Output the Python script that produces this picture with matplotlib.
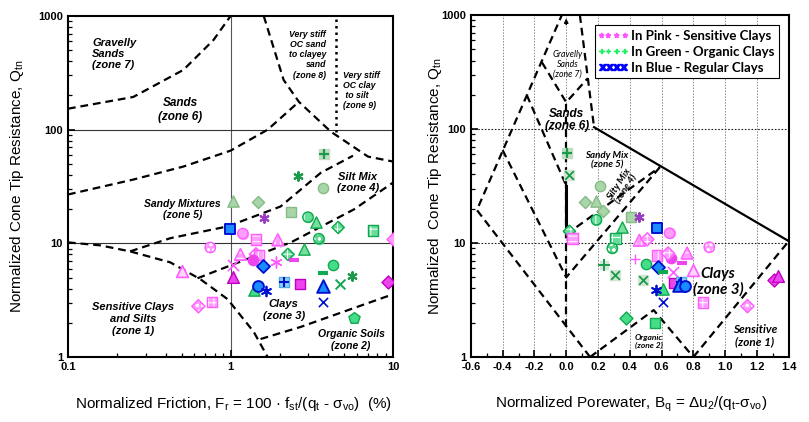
import matplotlib
matplotlib.use('Agg')
import matplotlib.pyplot as plt
from matplotlib.lines import Line2D
from matplotlib.ticker import FixedLocator, NullFormatter, LogLocator, MultipleLocator

plt.rcParams['font.family'] = ['Liberation Sans', 'DejaVu Sans']
plt.rcParams['mathtext.fontset'] = 'custom'
plt.rcParams['mathtext.rm'] = 'Liberation Sans'
plt.rcParams['mathtext.it'] = 'Liberation Sans:italic'
plt.rcParams['hatch.linewidth'] = 0.7

# ---- zone boundaries, Qtn-Fr chart (Fr %, Qtn)
z7_fr = [0.1, 0.252, 0.513, 0.785, 1.0]
z7_q = [153, 194, 336, 615, 1000]
z6_fr = [0.1, 0.252, 0.513, 1.0, 1.69, 2.63]
z6_q = [26.9, 36.4, 47.4, 65.4, 100, 176]
z8_fr = [1.6, 2.12, 2.63, 4.14, 7.0, 10]
z8_q = [1000, 274, 176, 96, 58, 52.4]
z9_fr = [4.45, 4.45]
z9_q = [95, 1000]
z54_fr = [0.241, 0.426, 0.96, 2.03, 3.59, 5.66]
z54_q = [8.5, 11.1, 14.1, 21.1, 41.8, 59]
z43_fr = [0.626, 1.0, 2.35, 5.74, 10]
z43_q = [4.93, 6.4, 10.2, 19.9, 34.3]
sens_fr = [0.1, 0.158, 0.241, 0.426, 0.653, 0.958, 1.39, 1.69]
sens_q = [10.2, 9.6, 8.5, 6.8, 4.83, 3.23, 1.66, 1.0]
z2_fr = [1.53, 2.7, 5.5, 10]
z2_q = [1.44, 1.84, 2.64, 3.57]

# ---- zone boundaries, Qtn-Bq chart
outer_bq = [0.15, -0.562, -0.028]
outer_q = [1, 19.5, 1000]
z7r_bq = [0.086, 0.175]
z7r_q = [1000, 104]
solid_bq = [0.175, 1.4]
solid_q = [104, 10.4]
v7_bq = [-0.153, 0.0, 0.136]
v7_q = [386, 172, 280]
chev_bq = [-0.40, 0.0, 0.59]
chev_q = [65.4, 5.0, 46.5]
z6b_bq = [-0.248, 0.0]
z6b_q = [199, 32]
z5b_bq = [0.0, 0.59]
z5b_q = [11.9, 46.5]
z1b_bq = [0.8, 1.4]
z1b_q = [1, 10.4]
org_bq = [0.15, 0.55, 0.8]
org_q = [1, 2.58, 1]

# ---- measured points
left_fr = [3.75, 2.59, 3.70, 1.04, 1.47, 2.35, 1.60, 2.99, 3.35, 4.58, 7.53, 0.99,
           1.19, 1.43, 1.95, 3.49, 10.0, 0.75, 1.15, 1.43, 1.50, 1.37, 2.82, 2.25,
           2.45, 1.90, 1.03, 1.58, 4.26, 3.70, 5.58, 1.04, 4.70, 2.12, 2.67, 3.70,
           9.30, 1.39, 1.47, 1.64, 3.70, 5.74, 0.505, 0.634, 0.77]
left_q = [61.6, 39.5, 31.0, 23.4, 22.9, 18.7, 16.6, 17.0, 15.3, 13.8, 13.0, 13.5,
          12.2, 10.8, 10.8, 11.0, 11.0, 9.2, 8.0, 8.0, 7.9, 7.2, 9.0, 8.0,
          7.1, 6.8, 6.4, 6.3, 6.5, 5.5, 5.2, 5.1, 4.4, 4.55, 4.37, 4.2,
          4.55, 3.9, 4.2, 3.8, 3.04, 2.2, 5.68, 2.8, 3.04]
left_style = ['sage_plus', 'green_star', 'sage_circle', 'sage_tri', 'sage_diamond',
              'sage_square', 'purple_star', 'green_circle_vs', 'green_tri',
              'green_diamond_chk', 'green_square_chk', 'blue_square',
              'pink_circle_hl', 'pink_square_hs', 'pink_tri_vs', 'green_circle_dot',
              'pink_diamond', 'pink_circle_dot', 'pink_tri_hs', 'pink_diamond_chk',
              'pink_square_vs', 'pink_circle', 'green_tri', 'green_diamond_chk',
              'magenta_dash', 'pink_star', 'pink_x', 'blue_diamond', 'green_circle',
              'green_dash', 'green_star', 'magenta_tri', 'green_x', 'lblue_plus',
              'magenta_square', 'blue_tri', 'magenta_diamond', 'green_tri2',
              'blue_circle', 'blue_star', 'blue_x', 'green_pent', 'pink_tri_open',
              'pink_diamond_dot', 'pink_square_chk']

right_bq = [0.004, 0.02, 0.21, 0.117, 0.186, 0.23, 0.19, 0.35, 0.02, 0.04, 0.31,
            0.29, 0.41, 0.46, 0.57, 0.65, 0.46, 0.51, 0.90, 0.57, 0.66, 0.64, 0.76,
            0.43, 0.50, 0.58, 0.61, 0.73, 0.67, 0.80, 0.24, 0.31, 0.48, 0.68, 0.72,
            0.71, 0.75, 0.61, 0.565, 0.61, 0.86, 1.14, 0.375, 0.56, 1.31, 1.33]
right_q = [61.6, 39.5, 32, 23, 23.4, 19, 16, 13.8, 12.7, 11, 11,
           9, 16.9, 16.9, 13.5, 12.2, 10.6, 10.8, 9.2, 7.8, 7.4, 8.1, 8.2,
           7.2, 6.5, 6.2, 5.6, 6.7, 5.6, 5.8, 6.4, 5.2, 4.7, 4.45, 4.55,
           4.3, 4.2, 3.95, 3.9, 3.04, 3.0, 2.8, 2.2, 2.0, 4.7, 5.1]
right_style = ['sage_plus', 'sage_x', 'sage_circle', 'sage_diamond', 'sage_tri',
               'sage_diamond', 'green_circle_vs', 'green_tri', 'green_diamond_chk',
               'pink_square_hs', 'green_square_chk', 'green_circle_dot', 'sage_square',
               'purple_star', 'blue_square', 'pink_circle_hl', 'pink_tri_vs',
               'pink_diamond_chk', 'pink_circle_dot', 'pink_square_vs', 'pink_circle',
               'pink_diamond_chk', 'pink_tri_hs', 'pink_plus', 'green_circle',
               'blue_diamond', 'green_dash', 'magenta_dash', 'pink_x', 'pink_tri_open',
               'green_plus_gray', 'sage_x', 'sage_x', 'magenta_square', 'lblue_plus',
               'blue_tri', 'blue_circle', 'green_tri2', 'blue_star', 'blue_x',
               'pink_square_chk', 'pink_diamond_dot', 'green_diamond', 'green_square',
               'magenta_diamond', 'magenta_tri']

legend_labels = ['In Pink - Sensitive Clays', 'In Green - Organic Clays',
                 'In Blue - Regular Clays']

# ---- marker styles
S = 55
PINK, PINK_E = '#ff9cff', '#ff5cff'
MAG, MAG_E = '#ee44ee', '#c000c0'
SAGE, SAGE_E = '#a9d6a9', '#86bb86'
GRN, GRN_E, GRN_D = '#44dd88', '#10a850', '#1a9a4a'
BLUE, BLUE_E, LBLUE = '#1a8cff', '#0010d0', '#88d4ff'
PURP = '#9a3cc0'


def lay(marker, s, fc, ec, lw=1.0, hatch=None):
    return dict(marker=marker, s=s, fc=fc, ec=ec, lw=lw, hatch=hatch)


def hatched(marker, fc, ec, hatch, s=S):
    return [lay(marker, s, fc, fc, 0.8),
            lay(marker, s, 'none', 'white', 0.0, hatch),
            lay(marker, s, 'none', ec, 1.0)]


STAR = (6, 2, 0)
STYLES = {
    'sage_plus': [lay('s', S, '#c2dcc2', '#c2dcc2'), lay('+', S * 0.8, GRN_D, GRN_D, 1.6)],
    'sage_x': [lay('s', S, '#d3e6d3', '#d3e6d3'), lay('x', S * 0.7, GRN_D, GRN_D, 1.3)],
    'green_plus_gray': [lay('s', S * 0.6, '#d8e4d8', '#d8e4d8'), lay('+', S * 1.3, GRN_D, GRN_D, 1.4)],
    'green_star': [lay(STAR, S * 0.7, GRN_D, GRN_D, 1.5)],
    'purple_star': [lay(STAR, S * 0.7, PURP, PURP, 1.5)],
    'pink_star': [lay(STAR, S * 1.2, PINK_E, PINK_E, 1.0)],
    'blue_star': [lay(STAR, S * 0.9, BLUE_E, BLUE_E, 1.3)],
    'sage_circle': [lay('o', S, SAGE, SAGE_E)],
    'sage_tri': [lay('^', S * 1.2, SAGE, SAGE_E)],
    'sage_diamond': [lay('D', S * 0.7, SAGE, SAGE_E)],
    'sage_square': [lay('s', S, SAGE, SAGE_E)],
    'green_circle_vs': hatched('o', '#66dd99', GRN_E, '||'),
    'green_circle_dot': hatched('o', '#55d68c', GRN_E, 'ooo'),
    'green_diamond_chk': hatched('D', '#66dd99', GRN_E, '++', S * 0.7),
    'green_square_chk': hatched('s', '#66dd99', GRN_E, '++'),
    'green_tri': [lay('^', S * 1.2, '#77e09c', GRN_E)],
    'green_tri2': [lay('^', S * 1.2, GRN, GRN_E)],
    'green_circle': [lay('o', S, GRN, GRN_E)],
    'green_diamond': [lay('D', S * 0.8, GRN, GRN_E)],
    'green_square': [lay('s', S, GRN, GRN_E)],
    'green_pent': [lay('p', S * 1.3, GRN, GRN_E)],
    'green_dash': [lay('_', S, GRN_E, GRN_E, 3.0)],
    'green_x': [lay('x', S * 0.9, GRN_E, GRN_E, 1.4)],
    'blue_square': [lay('s', S * 1.1, BLUE, BLUE_E, 1.4)],
    'blue_diamond': [lay('D', S * 0.8, BLUE, BLUE_E, 1.3)],
    'blue_tri': [lay('^', S * 1.5, BLUE, BLUE_E, 1.4)],
    'blue_circle': [lay('o', S * 1.1, BLUE, BLUE_E, 1.4)],
    'blue_x': [lay('x', S * 0.8, BLUE_E, BLUE_E, 1.2)],
    'lblue_plus': [lay('s', S * 1.1, LBLUE, '#55aadd'), lay('+', S * 1.1, BLUE_E, BLUE_E, 1.5)],
    'pink_circle_hl': hatched('o', PINK, PINK_E, '-'),
    'pink_circle_dot': hatched('o', PINK, PINK_E, 'ooo'),
    'pink_circle': [lay('o', S, MAG, MAG)],
    'pink_square_hs': hatched('s', PINK, PINK_E, '---'),
    'pink_square_vs': hatched('s', PINK, PINK_E, '|||'),
    'pink_square_chk': hatched('s', PINK, PINK_E, '+++'),
    'pink_tri_vs': hatched('^', PINK, PINK_E, '|||', S * 1.3),
    'pink_tri_hs': hatched('^', PINK, PINK_E, '---', S * 1.3),
    'pink_tri_open': [lay('^', S * 1.3, '#ffd6ff', PINK_E, 1.2)],
    'pink_diamond': [lay('D', S * 0.8, PINK, PINK_E)],
    'pink_diamond_chk': hatched('D', PINK, PINK_E, '+++', S * 0.8),
    'pink_diamond_dot': hatched('D', PINK, PINK_E, 'ooo', S * 0.8),
    'pink_x': [lay('x', S * 1.2, PINK_E, PINK_E, 1.2)],
    'pink_plus': [lay('+', S * 1.0, PINK_E, PINK_E, 1.0)],
    'magenta_dash': [lay('_', S, MAG, MAG, 3.0)],
    'magenta_tri': [lay('^', S * 1.3, MAG, MAG_E)],
    'magenta_square': [lay('s', S, MAG, MAG_E)],
    'magenta_diamond': [lay('D', S * 0.8, MAG, MAG_E)],
}


def draw_points(ax, xs, ys, styles):
    for x, y, st in zip(xs, ys, styles):
        for l in STYLES[st]:
            kw = {}
            if l['hatch']:
                kw['hatch'] = l['hatch']
            ax.scatter([x], [y], marker=l['marker'], s=l['s'], facecolors=l['fc'],
                       edgecolors=l['ec'], linewidths=l['lw'], zorder=5, **kw)


def dashed(ax, x, y, lw=1.6, ls=(0, (3.5, 2.2))):
    ax.plot(x, y, color='black', lw=lw, ls=ls, zorder=3)


fig = plt.figure(figsize=(8.09, 4.22), dpi=100)
axl = fig.add_axes([0.084, 0.154, 0.402, 0.808])
axr = fig.add_axes([0.582, 0.154, 0.393, 0.810])

zone_kw = dict(fontweight='bold', style='italic', color='black', zorder=4)

# ---------------- left chart
axl.set_xscale('log')
axl.set_yscale('log')
axl.set_xlim(0.1, 10)
axl.set_ylim(1, 1000)
axl.axvline(1, color='#555555', lw=0.8, zorder=1)
for yy in (10, 100):
    axl.axhline(yy, color='#333333', lw=0.8, zorder=1)

for fx, fq in [(z7_fr, z7_q), (z6_fr, z6_q), (z8_fr, z8_q), (z54_fr, z54_q),
               (z43_fr, z43_q), (sens_fr, sens_q), (z2_fr, z2_q)]:
    dashed(axl, fx, fq)
axl.plot(z9_fr, z9_q, color='black', lw=1.8, ls=(0, (1, 1.6)), zorder=3)

axl.text(0.141, 464, 'Gravelly\nSands\n(zone 7)', ha='left', va='center', fontsize=8, linespacing=1.1, **zone_kw)
axl.text(0.49, 150, 'Sands\n(zone 6)', ha='center', va='center', fontsize=8.5, linespacing=1.2, **zone_kw)
axl.text(3.86, 455, 'Very stiff\nOC sand\nto clayey\nsand\n(zone 8)', ha='right', va='center',
         multialignment='right', fontsize=6.3, linespacing=1.15, **zone_kw)
axl.text(4.91, 220, 'Very stiff\nOC clay\n to silt\n(zone 9)', ha='left', va='center',
         fontsize=6.3, linespacing=1.15, **zone_kw)
axl.text(6.08, 34.3, 'Silt Mix\n(zone 4)', ha='center', va='center', fontsize=8, linespacing=1.1, **zone_kw)
axl.text(0.506, 19.9, 'Sandy Mixtures\n(zone 5)', ha='center', va='center', fontsize=7.5, linespacing=1.1, **zone_kw)
axl.text(0.252, 2.16, 'Sensitive Clays\nand Silts\n(zone 1)', ha='center', va='center', fontsize=8, linespacing=1.2, **zone_kw)
axl.text(2.12, 2.58, 'Clays\n(zone 3)', ha='center', va='center', fontsize=8, linespacing=1.2, **zone_kw)
axl.text(5.5, 1.41, 'Organic Soils\n(zone 2)', ha='center', va='center', fontsize=7.5, linespacing=1.15, **zone_kw)

draw_points(axl, left_fr, left_q, left_style)

axl.xaxis.set_major_locator(FixedLocator([0.1, 1, 10]))
axl.set_xticklabels(['0.1', '1', '10'])
axl.xaxis.set_minor_locator(LogLocator(base=10, subs=range(2, 10)))
axl.xaxis.set_minor_formatter(NullFormatter())
axl.yaxis.set_major_locator(FixedLocator([1, 10, 100, 1000]))
axl.set_yticklabels(['1', '10', '100', '1000'])
axl.yaxis.set_minor_locator(LogLocator(base=10, subs=range(2, 10)))
axl.yaxis.set_minor_formatter(NullFormatter())
axl.set_xlabel('Normalized Friction, F$_{\\mathrm{r}}$ = 100 · f$_{\\mathrm{st}}$/(q$_{\\mathrm{t}}$ - σ$_{\\mathrm{vo}}$)  (%)',
               fontsize=11)
axl.xaxis.set_label_coords(0.51, -0.11)
axl.set_ylabel('Normalized Cone Tip Resistance, Q$_{\\mathrm{tn}}$', fontsize=11)
axl.yaxis.set_label_coords(-0.13, 0.5)

# ---------------- right chart
axr.set_yscale('log')
axr.set_xlim(-0.6, 1.4)
axr.set_ylim(1, 1000)
axr.xaxis.set_major_locator(MultipleLocator(0.2))
axr.xaxis.set_minor_locator(MultipleLocator(0.1))
for gx in [i * 0.2 - 0.4 for i in range(9)]:
    axr.axvline(gx, color='#888888', lw=0.7, ls=(0, (1.5, 1.5)), zorder=1)
for yy in (10, 100):
    axr.axhline(yy, color='#222222', lw=0.8, ls=(0, (1.5, 1.5)), zorder=1)

for bx, bq in [(outer_bq, outer_q), (z7r_bq, z7r_q), (v7_bq, v7_q), (chev_bq, chev_q),
               (z6b_bq, z6b_q), (z5b_bq, z5b_q), (z1b_bq, z1b_q), (org_bq, org_q)]:
    dashed(axr, bx, bq)
axr.plot(solid_bq, solid_q, color='black', lw=1.6, zorder=3)
dashed(axr, [0, 0], [1.83, 172])
axr.plot([0, 0], [12, 32], color='black', lw=2.2, zorder=3)
axr.annotate('', xy=(0, 990), xytext=(0, 780),
             arrowprops=dict(arrowstyle='-|>', color='black', lw=1.0, mutation_scale=6))

cal = ['Lato', 'DejaVu Sans']
axr.text(0.01, 372, 'Gravelly\nSands\n(zone 7)', ha='center', va='center', fontsize=6.3, linespacing=1.15,
         family=cal, style='italic', zorder=4)
axr.text(0.004, 120, 'Sands\n(zone 6)', ha='center', va='center', fontsize=8.5, linespacing=1.05, **zone_kw)
axr.text(0.255, 53.5, 'Sandy Mix\n(zone 5)', ha='center', va='center', fontsize=7, linespacing=1.1,
         family=cal, **zone_kw)
axr.text(0.356, 31, 'Silty Mix\n(zone 4)', ha='center', va='center', fontsize=7, linespacing=1.1,
         rotation=57, family=cal, **zone_kw)
axr.text(0.955, 4.55, 'Clays\n(zone 3)', ha='center', va='center', fontsize=11, linespacing=1.15,
         family=cal, **zone_kw)
axr.text(0.52, 1.38, 'Organic\n(zone 2)', ha='center', va='center', fontsize=6, linespacing=1.15,
         family=cal, **zone_kw)
axr.text(1.186, 1.53, 'Sensitive\n(zone 1)', ha='center', va='center', fontsize=8.5, linespacing=1.15,
         family=cal, **zone_kw)

draw_points(axr, right_bq, right_q, right_style)

handles = [Line2D([], [], ls='none', marker='$****$', ms=20, color='#ff55ff'),
           Line2D([], [], ls='none', marker='$++++$', ms=20, color='#22ee66'),
           Line2D([], [], ls='none', marker='$\\mathbf{xxxx}$', ms=20, color='#0000ff')]
leg = axr.legend(handles, legend_labels, loc='upper right', bbox_to_anchor=(0.99, 0.99),
                 fancybox=False, edgecolor='black', framealpha=1, borderpad=0.35,
                 labelspacing=0.3, handletextpad=0.4, handlelength=2.0,
                 prop=dict(family=cal, weight='bold', size=9.5))
leg.get_frame().set_linewidth(0.8)
leg.set_zorder(6)

axr.yaxis.set_major_locator(FixedLocator([1, 10, 100, 1000]))
axr.set_yticklabels(['1', '10', '100', '1000'])
axr.yaxis.set_minor_locator(LogLocator(base=10, subs=range(2, 10)))
axr.yaxis.set_minor_formatter(NullFormatter())
axr.set_xticks([round(-0.6 + 0.2 * i, 1) for i in range(11)])
axr.set_xticklabels(['%.1f' % (-0.6 + 0.2 * i) for i in range(11)])
axr.set_xlabel('Normalized Porewater, B$_{\\mathrm{q}}$ = Δu$_{2}$/(q$_{\\mathrm{t}}$-σ$_{\\mathrm{vo}}$)',
               fontsize=11)
axr.xaxis.set_label_coords(0.503, -0.11)
axr.set_ylabel('Normalized  Cone Tip Resistance, Q$_{\\mathrm{tn}}$', fontsize=11)
axr.yaxis.set_label_coords(-0.085, 0.5)

for ax in (axl, axr):
    for sp in ax.spines.values():
        sp.set_linewidth(1.5)
    ax.tick_params(which='both', direction='in', top=False, right=False)
    ax.tick_params(which='major', length=5, width=1.2, labelsize=8)
    ax.tick_params(which='minor', length=3, width=0.9)
    for lab in ax.get_xticklabels() + ax.get_yticklabels():
        lab.set_fontweight('bold')

fig.savefig('out.png', dpi=100)
